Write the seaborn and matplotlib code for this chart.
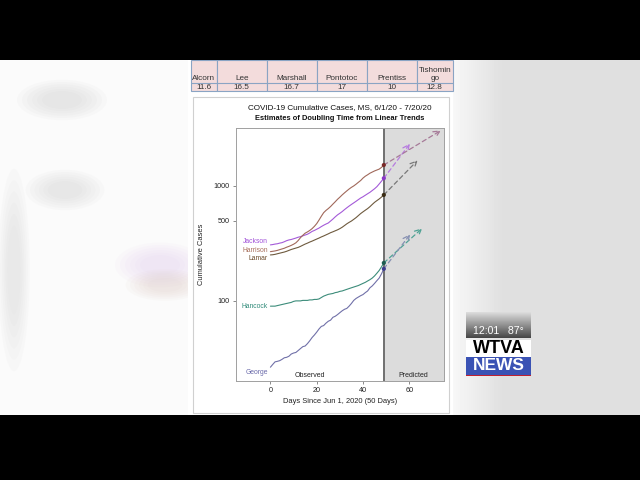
import numpy as np
import pandas as pd

import matplotlib
matplotlib.use("Agg")
import matplotlib.pyplot as plt
from matplotlib.patches import Rectangle, Ellipse
from matplotlib.ticker import NullLocator
import seaborn as sns

# ---- data ----
days = list(range(50))
jackson = [307, 309, 312, 314, 318, 321, 327, 334, 339, 342, 347, 352, 358, 362, 368,
           374, 380, 390, 402, 410, 420, 430, 443, 455, 466, 476, 495, 515, 538, 560,
           578, 598, 622, 645, 668, 690, 712, 735, 760, 785, 805, 830, 855, 880, 912,
           945, 985, 1040, 1100, 1167]
harrison = [268, 270, 272, 275, 279, 283, 287, 293, 298, 304, 311, 320, 335, 355, 372,
            388, 398, 410, 425, 445, 470, 505, 545, 585, 612, 635, 662, 695, 728, 765,
            798, 835, 870, 905, 940, 972, 1000, 1035, 1075, 1115, 1170, 1215, 1250, 1290,
            1320, 1350, 1375, 1400, 1450, 1520]
lamar = [251, 252, 254, 257, 260, 263, 266, 270, 275, 280, 284, 288, 292, 298, 305,
         312, 318, 325, 331, 338, 345, 352, 360, 367, 375, 383, 392, 399, 407, 415,
         425, 437, 452, 468, 482, 495, 512, 530, 552, 575, 595, 615, 635, 660, 690,
         720, 745, 770, 800, 835]
hancock = [90, 90, 90, 91, 92, 93, 94, 95, 96, 97, 99, 100, 100, 100, 101, 101, 101,
           102, 102, 103, 103, 104, 107, 110, 112, 114, 115, 116, 118, 119, 121, 122,
           124, 126, 128, 130, 132, 134, 136, 139, 142, 145, 149, 153, 158, 165, 174,
           184, 198, 214]
george = [26.5, 28, 29.5, 29.8, 30.2, 31, 32, 32.3, 33, 34.5, 35.2, 35.6, 37, 38.5, 40,
          40.5, 42.5, 45, 48, 50.5, 53.5, 57, 60, 61, 64, 66.5, 68, 72, 73.5, 76, 79,
          82, 84.5, 86, 90, 95, 101, 105, 108, 111, 113.5, 118, 122, 130, 135, 142,
          150, 158, 172, 190]

counties = ["Jackson", "Harrison", "Lamar", "Hancock", "George"]
doubling_days = [11.3, 24.7, 14.6, 16.6, 11.4]

table_names = ["Alcorn", "Lee", "Marshall", "Pontotoc", "Prentiss", "Tishomin\ngo"]
table_values = ["11.6", "16.5", "16.7", "17", "10", "12.8"]

line_colors = {"Jackson": "#a45ad8", "Harrison": "#a0685a", "Lamar": "#6e5a3e",
               "Hancock": "#3c8c7a", "George": "#7070a8"}
dot_colors = {"Jackson": "#8a38c8", "Harrison": "#7a2a28", "Lamar": "#3a2c14",
              "Hancock": "#1c5c50", "George": "#3c3c8c"}
dash_colors = {"Jackson": "#b67ae0", "Harrison": "#a67a98", "Lamar": "#787878",
               "Hancock": "#4fa294", "George": "#8690b2"}
label_colors = {"Jackson": "#a050d8", "Harrison": "#a8705c", "Lamar": "#6b4a2a",
                "Hancock": "#2f8a78", "George": "#6a6aaa"}
label_shift = {"Jackson": 2.2, "Harrison": 0.5, "Lamar": -2.6, "Hancock": 0, "George": -4}

df = pd.DataFrame({
    "day": days * len(counties),
    "cases": jackson + harrison + lamar + hancock + george,
    "county": np.repeat(counties, len(days)),
})

sns.set_style("white")
plt.rcParams["font.family"] = ["Liberation Sans", "DejaVu Sans"]

W, H = 640, 480
fig = plt.figure(figsize=(6.4, 4.8), dpi=100)

# ---- screen background (blurred broadcast frame) ----
bg = fig.add_axes([0, 0, 1, 1], zorder=0)
bg.set_xlim(0, W)
bg.set_ylim(H, 0)
bg.axis("off")
bg.add_patch(Rectangle((0, 60), 190, 355, color="#fbfbfb", lw=0))
grad = np.linspace(0.975, 0.875, 55)
grad = np.concatenate([grad, np.full(135, 0.875)])
bg.imshow(np.tile(grad, (2, 1)), cmap="gray", vmin=0, vmax=1, aspect="auto",
          extent=(450, 640, 415, 60), zorder=1)
for (cx, cy, w, h, c) in [(62, 100, 40, 18, "#c8c8c8"), (65, 190, 35, 18, "#cccccc"),
                          (14, 270, 14, 90, "#d0d0d0"), (160, 265, 40, 20, "#e0c8ec"),
                          (165, 285, 35, 14, "#dcc8c0")]:
    for k in range(6):
        bg.add_patch(Ellipse((cx, cy), w * (1 + 0.25 * k), h * (1 + 0.25 * k),
                             color=c, alpha=0.07, lw=0, zorder=1))
bg.add_patch(Rectangle((0, 0), W, 60, color="black", lw=0, zorder=3))
bg.add_patch(Rectangle((0, 415), W, 65, color="black", lw=0, zorder=3))
# page
bg.add_patch(Rectangle((188, 60), 265, 355, color="white", lw=0, zorder=2))
bg.add_patch(Rectangle((193, 97), 256, 316, fill=False, ec="#d0d0d0", lw=0.8, zorder=2))

# table
col_edges = [191, 216.7, 266.7, 316.7, 366.7, 416.7, 453]
for i, (name, val) in enumerate(zip(table_names, table_values)):
    x0, x1 = col_edges[i], col_edges[i + 1]
    bg.add_patch(Rectangle((x0, 60), x1 - x0, 31, fc="#f3dcdc", ec="#8aa4c4", lw=0.8, zorder=2))
    bg.plot([x0, x1], [83.3, 83.3], color="#8aa4c4", lw=0.8, zorder=2)
    bg.text((x0 + x1) / 2, 81.8, name, ha="center", va="bottom", fontsize=5.9,
            color="#333333", linespacing=1.15, zorder=4)
    bg.text((x0 + x1) / 2, 87.5, val, ha="center", va="center", fontsize=5.9,
            color="#333333", zorder=4)

# station logo
logo_grad = np.linspace(0.86, 0.28, 30)[:, None]
bg.imshow(logo_grad, cmap="gray", vmin=0, vmax=1, aspect="auto",
          extent=(466, 531, 338, 312), origin="upper", zorder=4)
bg.text(498.5, 331, "12:01   87\u00b0", ha="center", va="center", fontsize=7.6,
        color="white", zorder=5)
bg.add_patch(Rectangle((466, 339.5), 65, 17.5, color="white", lw=0, zorder=4))
bg.text(498.5, 348.5, "WTVA", ha="center", va="center", fontsize=13, weight="bold",
        color="black", zorder=5)
bg.add_patch(Rectangle((466, 357), 65, 17.5, color="#3a52b4", lw=0, zorder=4))
bg.add_patch(Rectangle((466, 374.5), 65, 1.5, color="#c02030", lw=0, zorder=4))
bg.text(498.5, 366, "NEWS", ha="center", va="center", fontsize=12.5, weight="bold",
        color="white", zorder=5)

# ---- the chart ----
ax_l, ax_r, ax_t, ax_b = 235.7, 444, 128, 381
ax = fig.add_axes([ax_l / W, 1 - ax_b / H, (ax_r - ax_l) / W, (ax_b - ax_t) / H], zorder=2)
ax.set_facecolor("white")
ax.axvspan(49, 75, color="#dcdcdc", lw=0, zorder=0)
ax.axvline(49, color="#707070", lw=1.4, zorder=1)

sns.lineplot(data=df, x="day", y="cases", hue="county", palette=line_colors,
             lw=0.8, legend=False, ax=ax, zorder=2)
last = df[df["day"] == days[-1]]
sns.scatterplot(data=last, x="day", y="cases", hue="county", palette=dot_colors,
                s=9, linewidth=0, legend=False, ax=ax, zorder=4)

for county, dd in zip(counties, doubling_days):
    y0 = last.loc[last["county"] == county, "cases"].iloc[0]
    ax.annotate("", xy=(days[-1] + dd, 2 * y0), xytext=(days[-1], y0),
                arrowprops=dict(arrowstyle="->,head_length=0.45,head_width=0.22",
                                ls=(0, (3.5, 2.5)), color=dash_colors[county], lw=0.9,
                                shrinkA=0, shrinkB=0), zorder=3)
    first = df.loc[(df["county"] == county) & (df["day"] == 0), "cases"].iloc[0]
    ax.annotate(county, xy=(-1, first), xytext=(0, label_shift[county]),
                textcoords="offset points", ha="right", va="center", fontsize=4.9,
                color=label_colors[county])

ax.set_yscale("log")
ax.set_xlim(-15, 75)
ax.set_ylim(20.1, 3190)
ax.set_xticks([0, 20, 40, 60])
ax.set_yticks([100, 500, 1000])
ax.set_yticklabels(["100", "500", "1000"])
ax.yaxis.set_minor_locator(NullLocator())
ax.tick_params(labelsize=5.2, length=2.5, width=0.6, color="#777777",
               labelcolor="#222222", pad=2, left=True, bottom=True)
for sp in ax.spines.values():
    sp.set_color("#a0a0a0")
    sp.set_linewidth(0.7)
ax.set_xlabel("Days Since Jun 1, 2020 (50 Days)", fontsize=5.4, color="#222222", labelpad=3)
ax.set_ylabel("Cumulative Cases", fontsize=5.4, color="#222222", labelpad=6)

ax.text(17, 0.008, "Observed", transform=ax.get_xaxis_transform(), ha="center",
        va="bottom", fontsize=5, color="#222222")
ax.text(61.6, 0.008, "Predicted", transform=ax.get_xaxis_transform(), ha="center",
        va="bottom", fontsize=5, color="#222222")

cx = (ax_l + ax_r) / 2 / W
fig.text(cx, 1 - 108 / H, "COVID-19 Cumulative Cases, MS, 6/1/20 - 7/20/20",
         ha="center", va="center", fontsize=5.9, color="#111111")
fig.text(cx, 1 - 118.5 / H, "Estimates of Doubling Time from Linear Trends",
         ha="center", va="center", fontsize=5.4, weight="bold", color="#111111")

fig.savefig("out.png", dpi=100)
plt.close(fig)
